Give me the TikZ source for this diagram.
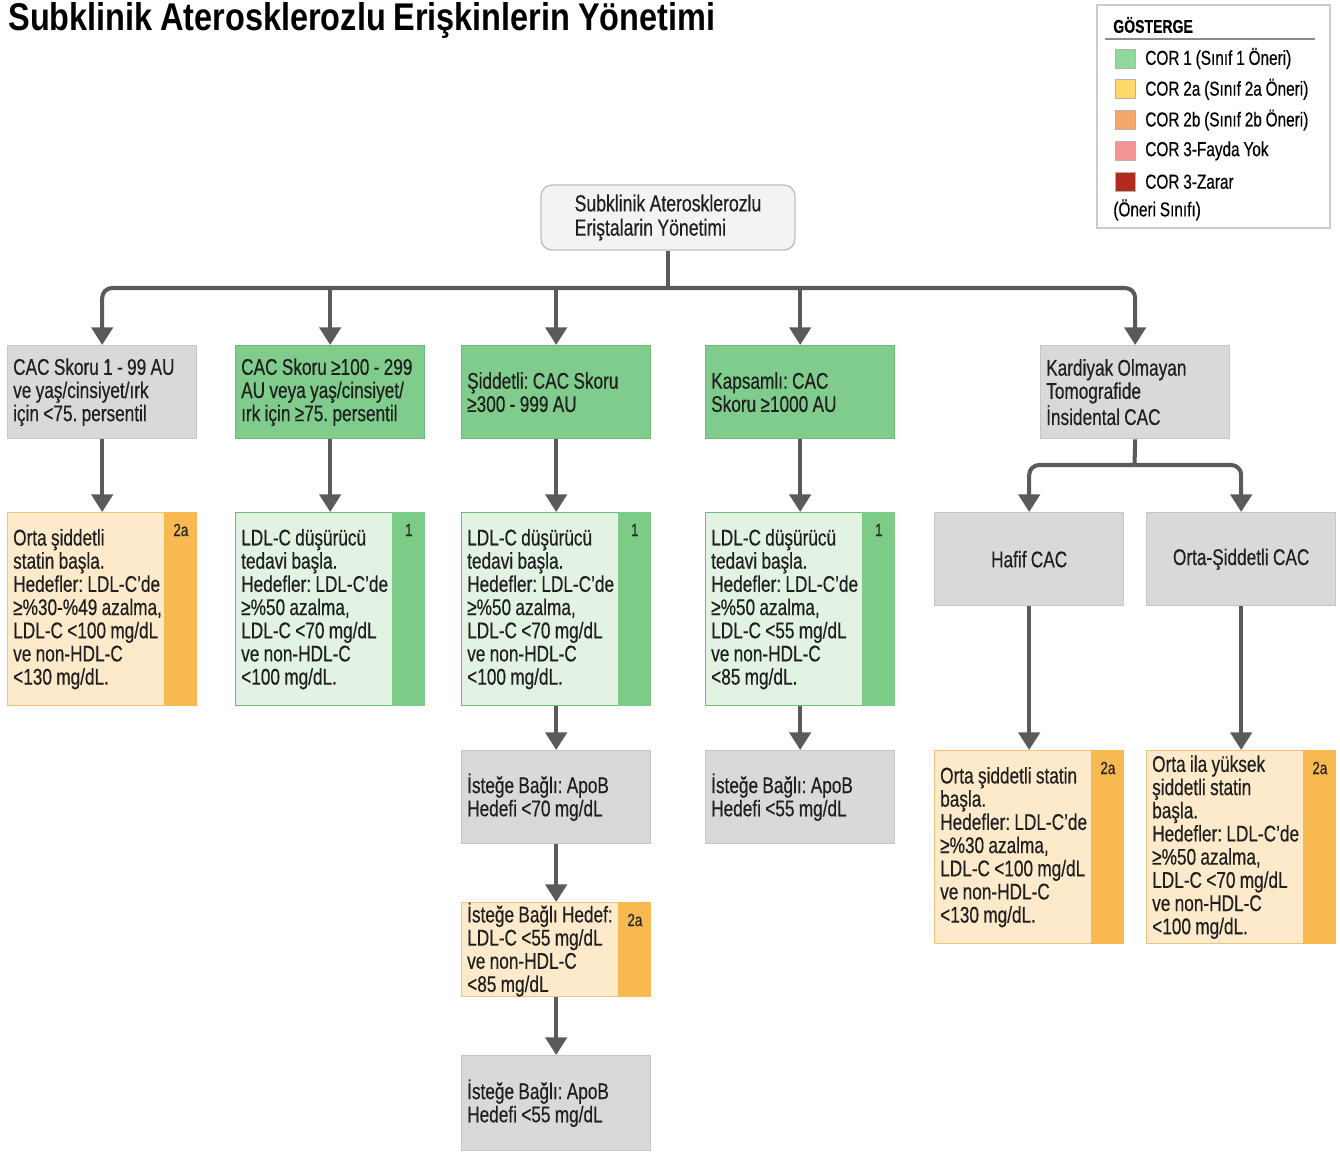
\documentclass[tikz,border=0pt]{standalone}
\usepackage{fontspec}
\setmainfont{Liberation Sans}[FakeStretch=0.76, WordSpace=0.9, FakeBold=0.4]
\newfontfamily\titlefont{Liberation Sans}[FakeStretch=0.84, WordSpace=0.85]
\usetikzlibrary{arrows.meta}

\definecolor{boxgray}{HTML}{D9D9D9}
\definecolor{grayline}{HTML}{C6C6C6}
\definecolor{rootfill}{HTML}{F3F3F3}
\definecolor{corgreen}{HTML}{80CC8C}
\definecolor{greenline}{HTML}{6DBB79}
\definecolor{lightgreen}{HTML}{E2F3E3}
\definecolor{stripgreen}{HTML}{7CCB86}
\definecolor{lightorange}{HTML}{FDEACB}
\definecolor{orangeline}{HTML}{F2C27A}
\definecolor{striporange}{HTML}{F8BA50}
\definecolor{arrowgray}{HTML}{5A5A5A}
\definecolor{legyellow}{HTML}{FCD96A}
\definecolor{legorange}{HTML}{F4A86A}
\definecolor{legpink}{HTML}{F49494}
\definecolor{legred}{HTML}{B22A1E}
\definecolor{leggreen}{HTML}{8FD99A}

\newcommand{\boxfont}{\fontsize{12.9}{13.2}\selectfont}
% coloured strip with the class of recommendation
\newcommand{\corstrip}[4]{%
  \fill[#2] ([xshift=-0.66cm]#1.north east) rectangle (#1.south east);
  \node[corlabel] (#4) at ([xshift=-0.33cm,yshift=-0.36cm]#1.north east) {#3};}

\begin{document}
\frenchspacing
\begin{tikzpicture}[x=0.02cm, y=-0.02cm,
    box/.style={anchor=north west, minimum width=3.78cm, minimum height=1.86cm,
      text width=3.56cm, inner xsep=0.11cm, inner ysep=0pt, align=flush left,
      font=\boxfont, text=black!88, line width=0.8pt},
    graybox/.style={box, fill=boxgray, draw=grayline},
    greenbox/.style={box, fill=corgreen, draw=greenline},
    lgreenbox/.style={box, fill=lightgreen, draw=greenline, minimum height=3.86cm},
    orangebox/.style={box, fill=lightorange, draw=orangeline, minimum height=3.86cm},
    corlabel/.style={font=\fontsize{10}{12}\selectfont, text=black!85, inner sep=0pt},
    conn/.style={draw=arrowgray, line width=2.3pt, -{Triangle[width=12pt,length=10pt]}},
    legsq/.style={minimum width=0.4cm, minimum height=0.38cm, inner sep=0pt, draw=black!30}]
  \useasboundingbox (0,0) rectangle (1340,1153);

  % Title
  \node[anchor=west, inner sep=0pt, font=\titlefont\fontsize{22}{26}\selectfont\bfseries] (title) at (8,21)
    {Subklinik Aterosklerozlu Erişkinlerin Yönetimi};

  % Legend
  \draw[black!20, line width=1pt] (1097,5) rectangle (1330,228);
  \node[anchor=west, inner sep=0pt, font=\fontsize{10.5}{12}\selectfont\bfseries] (legtitle) at (1113,25) {GÖSTERGE};
  \draw[black!45, line width=0.6pt] (1105,39) -- (1315,39);
  \foreach \col/\txt [count=\i] in {leggreen/COR 1 (Sınıf 1 Öneri), legyellow/COR 2a (Sınıf 2a Öneri),
      legorange/COR 2b (Sınıf 2b Öneri), legpink/COR 3-Fayda Yok, legred/COR 3-Zarar} {
    \node[legsq, fill=\col, anchor=west] (legsq\i) at (1115,{58.5+30.8*(\i-1)}) {};
    \node[anchor=west, inner sep=0pt, font=\fontsize{11.5}{13}\selectfont] (legtxt\i) at (1145,{58.5+30.8*(\i-1)}) {\txt};
  }
  \node[anchor=west, inner sep=0pt, font=\fontsize{11.5}{13}\selectfont] (legnote) at (1113,210) {(Öneri Sınıfı)};

  % Root
  \node[draw=black!25, fill=rootfill, rounded corners=0.22cm, line width=0.8pt, minimum width=5.08cm,
    minimum height=1.3cm, align=left, font=\fontsize{13.2}{13.8}\selectfont, text=black!88] (root) at (668,217.5)
    {Subklinik Aterosklerozlu\\Eriştalarin Yönetimi};

  % First row
  \node[graybox] (a) at (7,345) {CAC Skoru 1 - 99 AU\\ve yaş/cinsiyet/ırk\\için <75. persentil};
  \node[greenbox] (b) at (235,345) {CAC Skoru ≥100 - 299\\AU veya yaş/cinsiyet/\\ırk için ≥75. persentil};
  \node[greenbox] (c) at (461,345) {Şiddetli: CAC Skoru\\≥300 - 999 AU};
  \node[greenbox] (d) at (705,345) {Kapsamlı: CAC\\Skoru ≥1000 AU};
  \node[graybox] (e) at (1040,345) {Kardiyak Olmayan\\Tomografide\\İnsidental CAC};

  % Second row
  \node[orangebox] (a2) at (7,512) {Orta şiddetli\\statin başla.\\Hedefler: LDL-C'de\\≥\%30-\%49 azalma,\\LDL-C <100 mg/dL\\ve non-HDL-C\\<130 mg/dL.};
  \corstrip{a2}{striporange}{2a}{a2cor}
  \node[lgreenbox] (b2) at (235,512) {LDL-C düşürücü\\tedavi başla.\\Hedefler: LDL-C'de\\≥\%50 azalma,\\LDL-C <70 mg/dL\\ve non-HDL-C\\<100 mg/dL.};
  \corstrip{b2}{stripgreen}{1}{b2cor}
  \node[lgreenbox] (c2) at (461,512) {LDL-C düşürücü\\tedavi başla.\\Hedefler: LDL-C'de\\≥\%50 azalma,\\LDL-C <70 mg/dL\\ve non-HDL-C\\<100 mg/dL.};
  \corstrip{c2}{stripgreen}{1}{c2cor}
  \node[lgreenbox] (d2) at (705,512) {LDL-C düşürücü\\tedavi başla.\\Hedefler: LDL-C'de\\≥\%50 azalma,\\LDL-C <55 mg/dL\\ve non-HDL-C\\<85 mg/dL.};
  \corstrip{d2}{stripgreen}{1}{d2cor}
  \node[graybox, align=flush center] (f1) at (934,512) {Hafif CAC};
  \node[graybox, align=flush center] (f2) at (1146,512) {Orta-Şiddetli CAC};

  % Lower boxes
  \node[graybox] (c3) at (461,750) {İsteğe Bağlı: ApoB\\Hedefi <70 mg/dL};
  \node[orangebox, minimum height=1.86cm] (c4) at (461,902) {İsteğe Bağlı Hedef:\\LDL-C <55 mg/dL\\ve non-HDL-C\\<85 mg/dL};
  \corstrip{c4}{striporange}{2a}{c4cor}
  \node[graybox, minimum height=1.9cm] (c5) at (461,1055) {İsteğe Bağlı: ApoB\\Hedefi <55 mg/dL};
  \node[graybox] (d3) at (705,750) {İsteğe Bağlı: ApoB\\Hedefi <55 mg/dL};
  \node[orangebox] (f3) at (934,750) {Orta şiddetli statin\\başla.\\Hedefler: LDL-C'de\\≥\%30 azalma,\\LDL-C <100 mg/dL\\ve non-HDL-C\\<130 mg/dL.};
  \corstrip{f3}{striporange}{2a}{f3cor}
  \node[orangebox] (f4) at (1146,750) {Orta ila yüksek\\şiddetli statin\\başla.\\Hedefler: LDL-C'de\\≥\%50 azalma,\\LDL-C <70 mg/dL\\ve non-HDL-C\\<100 mg/dL.};
  \corstrip{f4}{striporange}{2a}{f4cor}

  % Bus from the root to the first row
  \coordinate (bus) at (668,288);
  \draw[draw=arrowgray, line width=2.3pt] (root.south) -- (bus);
  \draw[conn, rounded corners=0.2cm] (bus) -| (a.north);
  \draw[conn, rounded corners=0.2cm] (bus) -| (e.north);
  \foreach \n in {b,c,d}
    \draw[conn] (bus -| \n.north) -- (\n.north);

  % Arrows down the columns
  \foreach \p/\q in {a/a2, b/b2, c/c2, d/d2, c2/c3, c3/c4, c4/c5, d2/d3, f1/f3, f2/f4}
    \draw[conn] (\p.south) -- (\q.north);

  % Split under the incidental CAC box
  \coordinate (esplit) at (1134.5,465);
  \draw[draw=arrowgray, line width=2.3pt] (e.south) -- (esplit);
  \draw[conn, rounded corners=0.2cm] (esplit) -| (f1.north);
  \draw[conn, rounded corners=0.2cm] (esplit) -| (f2.north);
\end{tikzpicture}
\end{document}
